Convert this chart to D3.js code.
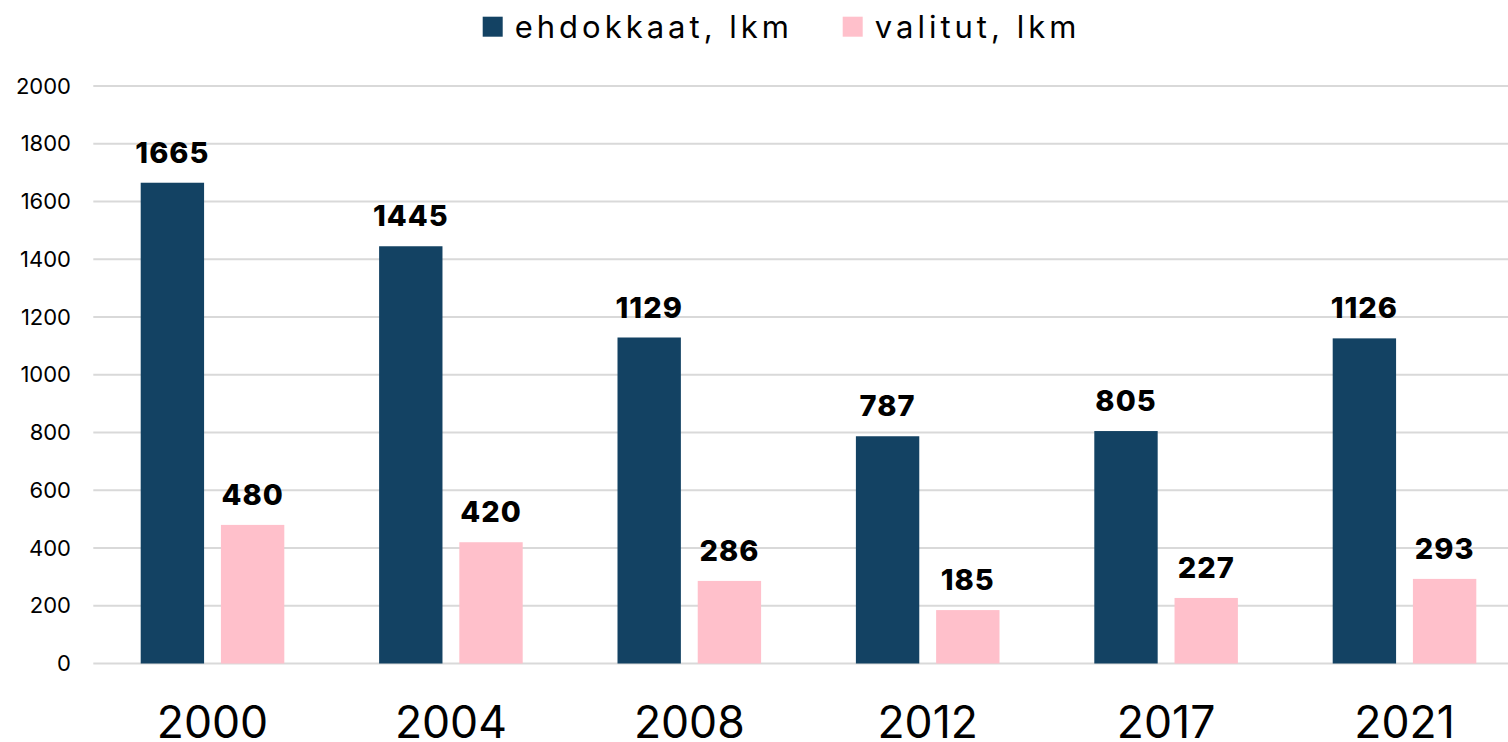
<!DOCTYPE html>
<html>
<head>
<meta charset="utf-8">
<script src="https://cdn.jsdelivr.net/npm/d3@7"></script>
<style>
  body { margin: 0; background: #fff; }
  svg { display: block; font-family: Inter, "Open Sans", sans-serif; }
</style>
</head>
<body>
<svg width="1508" height="742"></svg>
<script>
// chart data
var years = ["2000", "2004", "2008", "2012", "2017", "2021"];
var seriesNames = ["ehdokkaat, lkm", "valitut, lkm"];
var ehdokkaat = [1665, 1445, 1129, 787, 805, 1126];
var valitut = [480, 420, 286, 185, 227, 293];
var yTicks = [0, 200, 400, 600, 800, 1000, 1200, 1400, 1600, 1800, 2000];

var colors = ["#134263", "#ffc0cb"];

var svg = d3.select("svg");

var x = d3.scaleBand().domain(years).range([93.3, 1523.7]).padding(0),
    x1 = d3.scaleBand().domain([0, 1]).range([47.4, 238.4 - 47.4]).paddingInner(0.21),
    y = d3.scaleLinear().domain([0, 2000]).range([663.5, 86]);

// gridlines
svg.append("g")
  .selectAll("line")
  .data(yTicks)
  .enter().append("line")
    .attr("x1", 93.3)
    .attr("x2", 1508)
    .attr("y1", function(d) { return y(d); })
    .attr("y2", function(d) { return y(d); })
    .attr("stroke", "#d9d9d9")
    .attr("stroke-width", 2);

// y axis labels
var yAxis = svg.append("g")
    .attr("transform", "translate(71,0)")
    .call(d3.axisLeft(y).tickValues(yTicks).tickFormat(d3.format("d")).tickSize(0).tickPadding(0));
yAxis.select(".domain").remove();
yAxis.selectAll("text")
    .attr("font-family", "Inter, sans-serif")
    .attr("font-size", 22)
    .attr("fill", "#000");

// x axis labels (cut at the bottom edge, as in the original)
var xAxis = svg.append("g")
    .attr("transform", "translate(0,738)")
    .call(d3.axisBottom(x).tickSize(0).tickPadding(0));
xAxis.select(".domain").remove();
xAxis.selectAll("text")
    .attr("dy", 0)
    .attr("font-family", "Inter, sans-serif")
    .attr("font-size", 44.5)
    .attr("fill", "#000");

// bars
var data = years.map(function(yr, i) {
  return { year: yr, values: [ehdokkaat[i], valitut[i]] };
});

var groups = svg.selectAll(".group")
  .data(data)
  .enter().append("g")
    .attr("class", "group")
    .attr("transform", function(d) { return "translate(" + x(d.year) + ",0)"; });

groups.selectAll("rect")
  .data(function(d) { return d.values; })
  .enter().append("rect")
    .attr("x", function(d, i) { return x1(i); })
    .attr("y", function(d) { return y(d); })
    .attr("width", x1.bandwidth())
    .attr("height", function(d) { return y(0) - y(d); })
    .attr("fill", function(d, i) { return colors[i]; });

groups.selectAll(".lbl")
  .data(function(d) { return d.values; })
  .enter().append("text")
    .attr("class", "lbl")
    .attr("x", function(d, i) { return x1(i) + x1.bandwidth() / 2; })
    .attr("y", function(d) { return y(d) - 20; })
    .attr("text-anchor", "middle")
    .attr("font-size", 29)
    .attr("font-weight", 800)
    .attr("letter-spacing", 1)
    .attr("fill", "#000")
    .text(function(d) { return d; });

// legend
var legendX = [482.7, 842.7];
var legend = svg.selectAll(".legend")
  .data(seriesNames)
  .enter().append("g")
    .attr("class", "legend")
    .attr("transform", function(d, i) { return "translate(" + legendX[i] + ",0)"; });

legend.append("rect")
    .attr("y", 16.7)
    .attr("width", 20)
    .attr("height", 20)
    .attr("fill", function(d, i) { return colors[i]; });

legend.append("text")
    .attr("x", 32)
    .attr("y", 38.3)
    .attr("font-size", 31)
    .attr("letter-spacing", 4)
    .attr("fill", "#000")
    .text(function(d) { return d; });
</script>
</body>
</html>
